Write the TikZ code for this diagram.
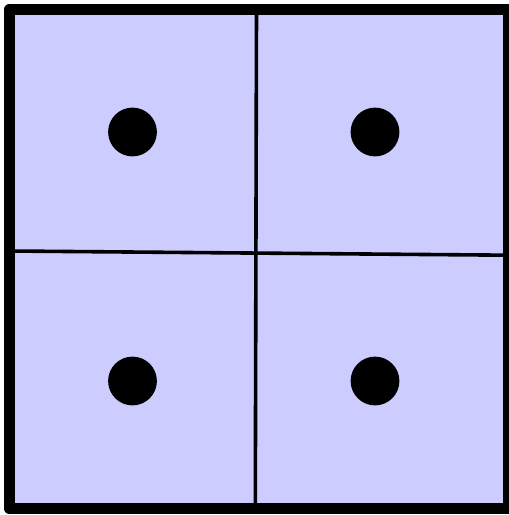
\documentclass[tikz,border=0pt]{standalone}
\usepackage[dvipsnames]{xcolor}

\begin{document}
\begin{tikzpicture}[x=1pt,y=-1pt]
\useasboundingbox (0,0) rectangle (509,515);
%fond des quatre cases
\fill [blue!20] (9.5,9.5) rectangle (508.5,508.5);

%separations (legerement penchees)
\draw [line width=3.6pt] (256.5,9.5) -- (255.3,508.5);
\draw [line width=3.6pt] (9.5,251) -- (508.5,255.2);

%centres des cases
\foreach \cx/\cy in {132.5/132, 375/132, 132.5/381, 375/381}
  \fill (\cx,\cy) circle (24.4);

%bord exterieur
\draw [line width=11.5pt, line join=round] (9.5,9.5) rectangle (508.5,508.5);
\end{tikzpicture}
\end{document}
